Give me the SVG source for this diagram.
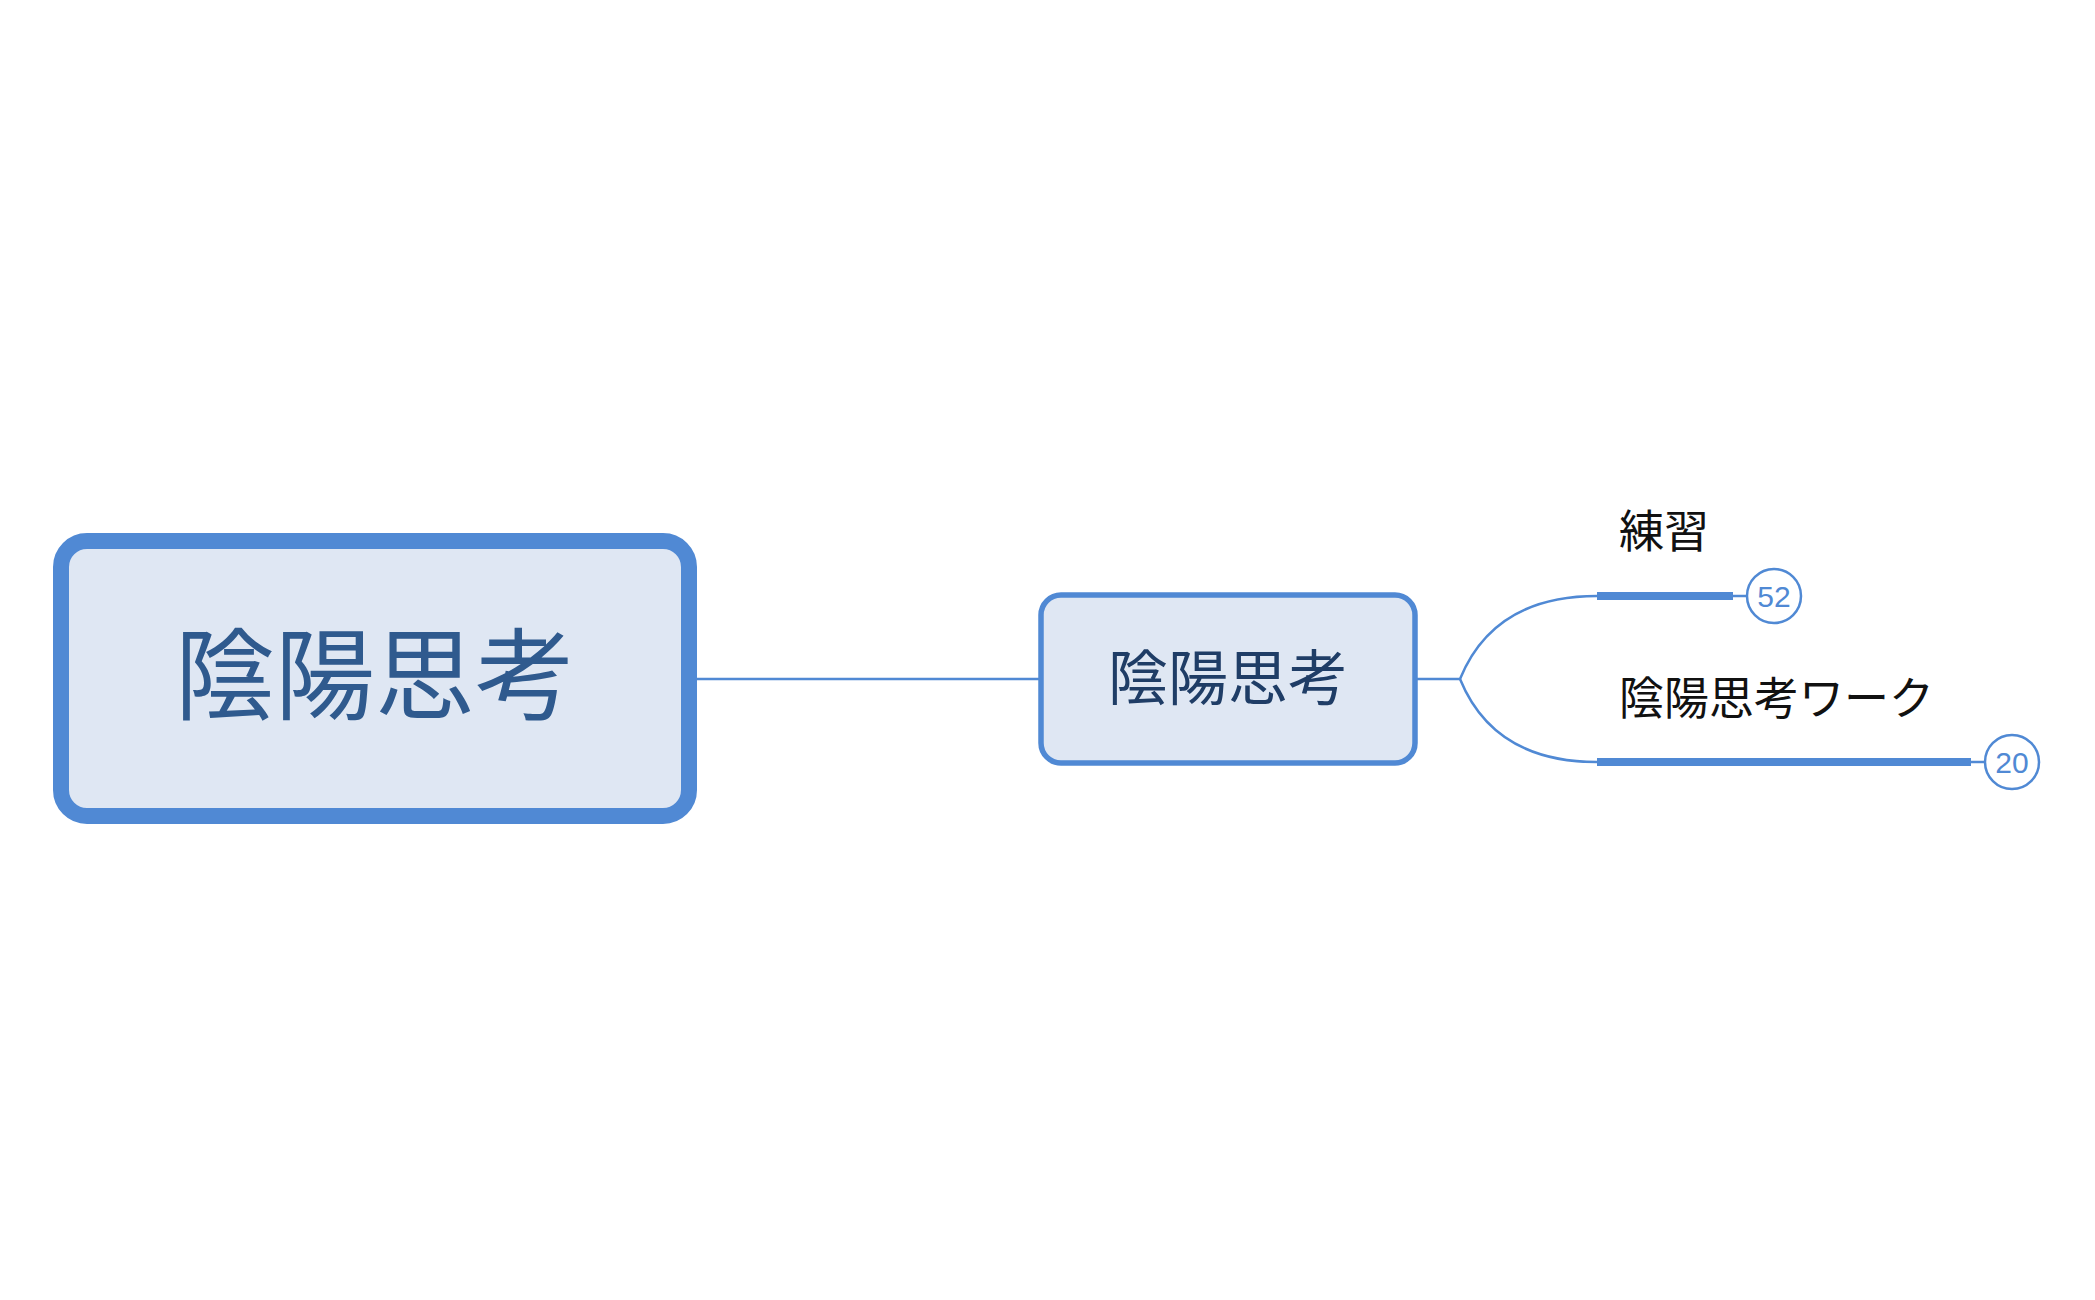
<svg xmlns="http://www.w3.org/2000/svg" width="2095" height="1300" viewBox="0 0 2095 1300">
<style>
.t{font-family:"Noto Sans CJK JP","Liberation Sans",sans-serif}
.ln{fill:none;stroke:#5089d4}
.badge{fill:#fff;stroke:#5089d4;stroke-width:2.5}
.bt{font-family:"Liberation Sans",sans-serif;font-size:30px;fill:#5089d4;text-anchor:middle}
</style>
<rect width="2095" height="1300" fill="#fff"/>
<g id="connectors">
<line class="ln" x1="695" y1="679" x2="1041" y2="679" stroke-width="2.5"/>
<path class="ln" d="M1415 679 H1460 C1480 630 1520 596 1597 596" stroke-width="2.5"/>
<path class="ln" d="M1460 679 C1480 728 1520 762 1597 762" stroke-width="2.5"/>
<line class="ln" x1="1597" y1="596" x2="1733" y2="596" stroke-width="8"/>
<line class="ln" x1="1733" y1="596" x2="1747" y2="596" stroke-width="2.5"/>
<line class="ln" x1="1597" y1="762" x2="1971" y2="762" stroke-width="8"/>
<line class="ln" x1="1971" y1="762" x2="1985" y2="762" stroke-width="2.5"/>
</g>
<g id="root">
<rect x="61" y="541" width="628" height="275" rx="26" fill="#dfe7f3" stroke="#5089d4" stroke-width="16"/>
<text class="t" x="375" y="712" font-size="100" fill="#2f5a8e" text-anchor="middle">陰陽思考</text>
</g>
<g id="main">
<rect x="1041" y="595" width="374" height="168" rx="20" fill="#dfe7f3" stroke="#5089d4" stroke-width="5.5"/>
<text class="t" x="1228" y="700" font-size="60" fill="#1f3d66" text-anchor="middle">陰陽思考</text>
</g>
<g id="n1">
<text class="t" x="1619" y="548" font-size="45" fill="#111">練習</text>
<circle class="badge" cx="1774" cy="596" r="27"/>
<text class="bt" x="1774" y="607">52</text>
</g>
<g id="n2">
<text class="t" x="1619" y="715" font-size="45" fill="#111">陰陽思考ワーク</text>
<circle class="badge" cx="2012" cy="762" r="27"/>
<text class="bt" x="2012" y="773">20</text>
</g>
</svg>
